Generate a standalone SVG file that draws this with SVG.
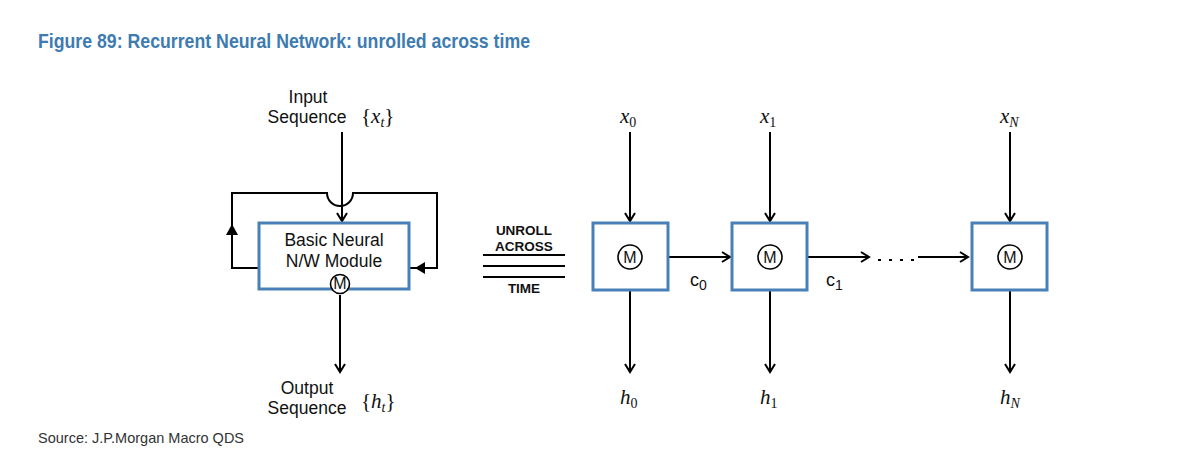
<svg xmlns="http://www.w3.org/2000/svg" width="1200" height="463" viewBox="0 0 1200 463">
<style>
.title{font-family:"Liberation Sans",Arial,sans-serif;font-size:21px;fill:#3d7bb0;font-weight:bold}
.lbl{font-family:"Liberation Sans",Arial,sans-serif;font-size:17.5px;fill:#111}
.bold{font-family:"Liberation Sans",Arial,sans-serif;font-size:13.5px;font-weight:bold;fill:#111}
.math{font-family:"Liberation Serif","DejaVu Serif",serif;font-style:italic;font-size:21px;fill:#111}
.sub{font-size:14px;font-style:normal}
.isub{font-size:14px;font-style:italic}
.src{font-family:"Liberation Sans",Arial,sans-serif;font-size:14.5px;fill:#333}
.box{fill:#fff;stroke:#4a80b8;stroke-width:3}
.ln{fill:none;stroke:#000;stroke-width:2}
.circ{fill:#fff;stroke:#000;stroke-width:1.6}
.m{font-family:"Liberation Sans",Arial,sans-serif;font-size:16px;fill:#111;text-anchor:middle}
.c{font-family:"Liberation Sans",Arial,sans-serif;font-size:18px;fill:#111}
</style>
<defs>
<marker id="v" markerWidth="12" markerHeight="12" refX="10" refY="6" orient="auto" markerUnits="userSpaceOnUse">
<path d="M2,1 L10,6 L2,11" fill="none" stroke="#000" stroke-width="2"/>
</marker>
</defs>
<rect width="1200" height="463" fill="#fff"/>
<text class="title" x="38" y="48" textLength="492" lengthAdjust="spacingAndGlyphs">Figure 89: Recurrent Neural Network: unrolled across time</text>

<g id="connectors">
<path class="ln" d="M342,132 V221" marker-end="url(#v)"/>
<path class="ln" d="M409,268 H437 V193 H353 A13,13 0 0 1 327,193 H232 V268 H259"/>
<path d="M415,268 L425,262 L425,274 Z" fill="#000"/>
<path d="M232,224 L226,235 L238,235 Z" fill="#000"/>
<path class="ln" d="M340,295 V372" marker-end="url(#v)"/>

<path class="ln" d="M630,132 V221" marker-end="url(#v)"/>
<path class="ln" d="M770,132 V221" marker-end="url(#v)"/>
<path class="ln" d="M1010,132 V221" marker-end="url(#v)"/>
<path class="ln" d="M630,291 V372" marker-end="url(#v)"/>
<path class="ln" d="M770,291 V372" marker-end="url(#v)"/>
<path class="ln" d="M1010,291 V372" marker-end="url(#v)"/>
<path class="ln" d="M669,257 H730" marker-end="url(#v)"/>
<path class="ln" d="M808,257 H869" marker-end="url(#v)"/>
<path class="ln" d="M878,260 H918" stroke-dasharray="3,8" stroke-width="3"/>
<path class="ln" d="M918,257 H968" marker-end="url(#v)"/>
<path class="ln" d="M483,255 H565 M483,266 H565 M483,277 H565" stroke-width="3"/>
</g>

<g id="module">
<rect class="box" x="259" y="223" width="150" height="66"/>
<text class="lbl" x="334" y="246" text-anchor="middle">Basic Neural</text>
<text class="lbl" x="334" y="267" text-anchor="middle">N/W Module</text>
<circle class="circ" cx="340" cy="284" r="9.5"/>
<text class="m" x="340" y="289" font-size="13">M</text>
</g>

<g id="input-label">
<text class="lbl" x="308" y="103" text-anchor="middle">Input</text>
<text class="lbl" x="307" y="123" text-anchor="middle">Sequence</text>
<text class="math" x="361" y="123"><tspan font-style="normal">{</tspan>x<tspan class="isub" dy="4">t</tspan><tspan font-style="normal" dy="-4">}</tspan></text>
</g>
<g id="output-label">
<text class="lbl" x="307" y="394" text-anchor="middle">Output</text>
<text class="lbl" x="307" y="414" text-anchor="middle">Sequence</text>
<text class="math" x="361" y="408"><tspan font-style="normal">{</tspan>h<tspan class="isub" dy="4">t</tspan><tspan font-style="normal" dy="-4">}</tspan></text>
</g>

<g id="unroll">
<text class="bold" x="524" y="235" text-anchor="middle">UNROLL</text>
<text class="bold" x="524" y="251" text-anchor="middle">ACROSS</text>
<text class="bold" x="524" y="293" text-anchor="middle">TIME</text>
</g>

<g id="cell0">
<rect class="box" x="593" y="223" width="75" height="67"/>
<circle class="circ" cx="630" cy="257" r="12"/>
<text class="m" x="630" y="263">M</text>
</g>
<g id="cell1">
<rect class="box" x="732" y="223" width="75" height="67"/>
<circle class="circ" cx="770" cy="257" r="12"/>
<text class="m" x="770" y="263">M</text>
</g>
<g id="cellN">
<rect class="box" x="972" y="223" width="75" height="67"/>
<circle class="circ" cx="1010" cy="257" r="12"/>
<text class="m" x="1010" y="263">M</text>
</g>

<g id="labels">
<text class="math" x="620" y="123">x<tspan class="sub" dy="4">0</tspan></text>
<text class="math" x="760" y="123">x<tspan class="sub" dy="4">1</tspan></text>
<text class="math" x="1000" y="123">x<tspan class="isub" dy="4">N</tspan></text>
<text class="math" x="620" y="404">h<tspan class="sub" dy="4">0</tspan></text>
<text class="math" x="760" y="404">h<tspan class="sub" dy="4">1</tspan></text>
<text class="math" x="1000" y="404">h<tspan class="isub" dy="4">N</tspan></text>
<text class="c" x="690" y="286">c<tspan class="sub" dy="4" font-size="13">0</tspan></text>
<text class="c" x="826" y="286">c<tspan class="sub" dy="4" font-size="13">1</tspan></text>
</g>

<text class="src" x="38" y="443">Source:  J.P.Morgan Macro QDS</text>
</svg>
